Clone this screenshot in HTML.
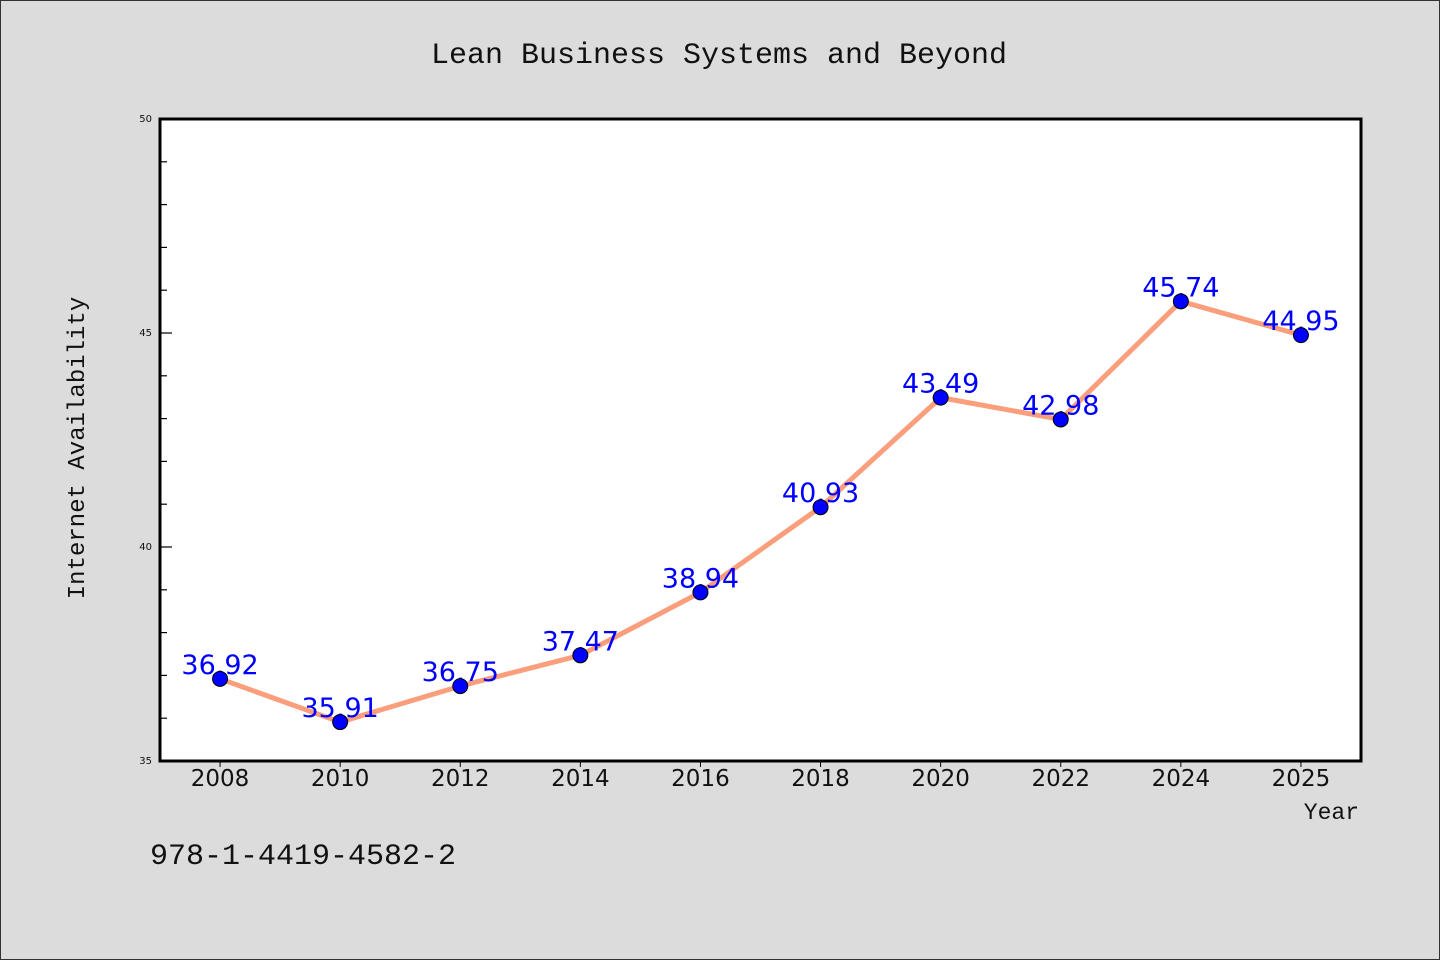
<!DOCTYPE html>
<html><head><meta charset="utf-8"><style>
html,body{margin:0;padding:0;background:#dcdcdc;}
svg{display:block;}
</style></head><body>
<svg width="1440" height="960" xmlns="http://www.w3.org/2000/svg">
<rect x="0.5" y="0.5" width="1439" height="959" fill="#dcdcdc" stroke="#333"/>
<text x="719" y="63" text-anchor="middle" font-family="Liberation Mono, monospace" font-size="30" fill="#111">Lean Business Systems and Beyond</text>
<rect x="160" y="119" width="1201" height="642" fill="#fff"/>
<g id="ticks"></g>
<polyline id="line" fill="none" stroke="#fa9e7b" stroke-width="5" stroke-linejoin="round"/>
<g id="pts"></g>
<rect x="160" y="119" width="1201" height="642" fill="none" stroke="#000" stroke-width="3"/>
<text transform="translate(84,448) rotate(-90)" text-anchor="middle" font-family="Liberation Mono, monospace" font-size="24" fill="#111">Internet Availability</text>
<text x="1359" y="819" text-anchor="end" font-family="Liberation Mono, monospace" font-size="23" fill="#111">Year</text>
<text x="150" y="864" font-family="Liberation Mono, monospace" font-size="30" fill="#111">978-1-4419-4582-2</text>
</svg>
<script>
const categories=["2008","2010","2012","2014","2016","2018","2020","2022","2024","2025"];
const values=[36.92,35.91,36.75,37.47,38.94,40.93,43.49,42.98,45.74,44.95];
const valueLabels=["36,92","35,91","36,75","37,47","38,94","40,93","43,49","42,98","45,74","44,95"];
const yTicks=[35,40,45,50];
const yMin=35,yMax=50;
const L=160,R=1361,T=119,B=761;
const NS="http://www.w3.org/2000/svg";
function x(i){const bw=(R-L)/categories.length;return L+bw*(i+0.5);}
function y(v){return B-(v-yMin)/(yMax-yMin)*(B-T);}
const tg=document.getElementById('ticks');
function mk(tag,attrs,parent){const e=document.createElementNS(NS,tag);for(const k in attrs)e.setAttribute(k,attrs[k]);parent.appendChild(e);return e;}
for(let v=yMin;v<=yMax;v++){
  const major=yTicks.includes(v);
  const t=mk('line',{x1:L,x2:L+(major?12:7),y1:y(v),y2:y(v),stroke:'#000','stroke-width':1.2},tg);
  
  
}
yTicks.forEach(v=>{
  const t=mk('text',{x:L-8,y:y(v)+3,'text-anchor':'end','font-family':'DejaVu Sans, sans-serif','font-size':10,fill:'#111'},tg);
  t.textContent=v;
  
  
});
categories.forEach((c,i)=>{
  const l=mk('line',{x1:x(i),x2:x(i),y1:B,y2:B+6,stroke:'#000','stroke-width':1},tg);
  
  
  const t=mk('text',{x:x(i),y:B+25,'text-anchor':'middle','font-family':'DejaVu Sans, sans-serif','font-size':23,fill:'#111'},tg);
  t.textContent=c;
  
  
});
document.getElementById('line').setAttribute('points',values.map((v,i)=>x(i)+','+y(v)).join(' '));
const pg=document.getElementById('pts');
values.forEach((v,i)=>{
  const t=mk('text',{x:x(i),y:y(v)-5,'text-anchor':'middle','font-family':'DejaVu Sans, sans-serif','font-size':27,fill:'#0000ff'},pg);
  t.textContent=valueLabels[i];
  
  
  const c=mk('circle',{cx:x(i),cy:y(v),r:7.5,fill:'#0000ff',stroke:'#000','stroke-width':1},pg);
  
  
});
</script>
</body></html>
